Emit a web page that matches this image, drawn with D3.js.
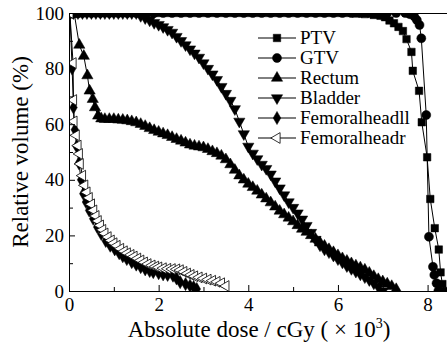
<!DOCTYPE html>
<html>
<head>
<meta charset="utf-8">
<script src="https://cdn.jsdelivr.net/npm/d3@7"></script>
<style>
  body { margin: 0; background: #fff; }
  svg { display: block; }
</style>
</head>
<body>
<div id="chart"></div>
<script>
// tick values
const doseTicks = [0, 2, 4, 6, 8];
const doseMinor = [1, 3, 5, 7];
const volTicks = [0, 20, 40, 60, 80, 100];
const volMinor = [10, 30, 50, 70, 90];

const seriesNames = ["PTV", "GTV", "Rectum", "Bladder", "Femoralheadll", "Femoralheadr"];

// [dose (x10^3 cGy), relative volume %]
const ptvData = [[0,100],[0.2,100],[0.4,100],[0.6,100],[0.8,100],[1.0,100],[1.2,100],[1.4,100],[1.6,100],[1.8,100],
  [2.0,100],[2.2,100],[2.4,100],[2.6,100],[2.8,100],[3.0,100],[3.2,100],[3.4,100],[3.6,100],[3.8,100],
  [4.0,100],[4.2,100],[4.4,100],[4.6,100],[4.8,100],[5.0,100],[5.2,100],[5.4,100],[5.6,100],[5.8,100],
  [6.0,100],[6.2,100],[6.4,99.8],[6.6,99.6],[6.8,99.3],[6.95,99],[7.05,98.5],[7.15,97.3],[7.25,96.3],
  [7.35,95],[7.45,93.5],[7.53,90.6],[7.64,86],[7.67,79.2],[7.81,72],[7.87,60.7],[7.99,48.1],[8.06,33.1],
  [8.16,22.6],[8.25,14.9],[8.29,6.7],[8.33,2.5],[8.38,0]];

const gtvData = [[0.1,100],[0.3,100],[0.5,100],[0.7,100],[0.9,100],[1.1,100],[1.3,100],[1.5,100],[1.7,100],[1.9,100],
  [2.1,100],[2.3,100],[2.5,100],[2.7,100],[2.9,100],[3.1,100],[3.3,100],[3.5,100],[3.7,100],[3.9,100],
  [4.1,100],[4.3,100],[4.5,100],[4.7,100],[4.9,100],[5.1,100],[5.3,100],[5.5,100],[5.7,100],[5.9,100],
  [6.1,100],[6.3,100],[6.5,100],[6.7,100],[6.9,100],[7.1,100],[7.3,100],[7.5,100],[7.6,99.6],[7.7,98.8],
  [7.76,97.5],[7.82,95.7],[7.86,90.9],[7.97,63.3],[8.03,19.5],[8.12,8.7],[8.15,5.8],[8.2,2.8],[8.24,0]];

const rectumData = [[0,100],[0.12,99.5],[0.23,88.5],[0.33,84.5],[0.41,77.5],[0.46,72],[0.53,69],[0.58,66],[0.65,63],
  [0.72,62],[0.8,61.8],[0.9,61.8],[1.0,61.8],[1.1,61.6],[1.2,61.5],[1.3,61.3],[1.4,61],[1.5,60.6],[1.6,60],
  [1.7,59.3],[1.8,58.5],[1.9,57.8],[2.0,57.2],[2.1,56.6],[2.2,56],[2.3,55.3],[2.4,54.6],[2.5,54],[2.6,53.3],
  [2.7,52.6],[2.8,52.2],[2.9,51.9],[3.0,51.6],[3.1,51],[3.2,50.2],[3.3,49.5],[3.4,48.6],[3.5,47.3],[3.6,45.5],
  [3.7,43.5],[3.8,41.5],[3.9,40],[4.0,38.5],[4.1,37.3],[4.2,36],[4.3,34.6],[4.4,33.2],[4.5,31.8],[4.6,30.3],
  [4.7,28.8],[4.8,27.5],[4.9,26.3],[5.0,25],[5.1,23.6],[5.2,22.3],[5.3,21.2],[5.4,20],[5.5,18.7],[5.6,17.4],
  [5.7,16.2],[5.8,15],[5.9,13.9],[6.0,12.8],[6.1,11.7],[6.2,10.8],[6.3,9.9],[6.4,9.1],[6.5,8.4],[6.6,7.6],
  [6.7,6.5],[6.8,5.3],[6.9,4.2],[7.0,3.4],[7.1,2.6],[7.2,1.7],[7.3,0.6]];

const bladderData = [[0,100],[0.1,100],[0.2,100],[0.3,100],[0.4,100],[0.5,100],[0.6,100],[0.7,100],[0.8,100],
  [0.9,100],[1.0,100],[1.1,100],[1.2,100],[1.3,100],[1.4,100],[1.5,100],[1.6,99],[1.7,98.2],[1.8,97.4],
  [1.9,96.5],[2.0,95.8],[2.1,95],[2.2,94],[2.3,93],[2.4,91.5],[2.5,90],[2.6,88.5],[2.7,87],[2.8,85.5],
  [2.9,84],[3.0,82],[3.1,80],[3.2,78],[3.3,76],[3.4,73.5],[3.5,71],[3.6,68.5],[3.7,65.5],[3.8,61],
  [3.9,56.5],[4.0,52],[4.1,49.5],[4.2,47.5],[4.3,45.5],[4.4,44],[4.5,42],[4.6,39.5],[4.7,37],[4.8,34.5],
  [4.9,32],[5.0,30],[5.1,28],[5.2,25.8],[5.3,23.5],[5.4,21],[5.5,18.5],[5.6,16.5],[5.7,15],[5.8,14],
  [5.9,12.8],[6.0,11.5],[6.1,10.3],[6.2,9],[6.3,8],[6.4,7],[6.5,6],[6.6,5],[6.7,4],[6.8,2.8],[6.9,1.5],[7.0,0]];

const femLData = [[0,100],[0.02,100],[0.07,80],[0.1,66],[0.13,58],[0.17,52],[0.22,46],[0.27,40],[0.32,35],
  [0.38,32],[0.45,29],[0.54,26],[0.63,23],[0.72,20.5],[0.82,18],[0.92,16.3],[1.02,15],[1.12,13.6],[1.2,12.5],
  [1.29,11.5],[1.4,10.4],[1.5,9.5],[1.6,8.6],[1.7,7.8],[1.8,7.2],[1.88,6.8],[2.0,6.4],[2.1,6],[2.2,5.8],
  [2.32,5.5],[2.4,4.5],[2.48,3.2],[2.6,2.5],[2.7,1.9],[2.78,1.4],[2.85,0.7]];

const femRData = [[0,100],[0.02,100],[0.09,82],[0.1,68.7],[0.11,61],[0.16,56],[0.2,52.3],[0.23,49.3],[0.25,45.7],
  [0.3,41.5],[0.35,38],[0.4,35.5],[0.45,33.5],[0.5,31.2],[0.55,29],[0.6,27],[0.65,25.2],[0.7,23.6],[0.75,22],
  [0.8,20.7],[0.87,19.4],[0.94,18.2],[1.0,17.2],[1.07,16.3],[1.15,15.2],[1.23,14.3],[1.3,13.6],[1.38,13],
  [1.45,12.4],[1.53,11.7],[1.6,11],[1.68,10.3],[1.76,9.7],[1.85,9.2],[1.93,8.8],[2.0,8.5],[2.1,8.2],[2.2,8],
  [2.3,7.9],[2.4,7.8],[2.48,7.5],[2.56,6.9],[2.64,6.3],[2.72,5.8],[2.8,5.3],[2.9,4.9],[3.0,4.5],[3.1,4.1],
  [3.2,3.7],[3.3,3.3],[3.4,2.8],[3.5,1.8]];

const allData = [ptvData, gtvData, rectumData, bladderData, femLData, femRData];

// marker styles per series
const markers = [
  { type: d3.symbolSquare, size: 56, rot: 0, fill: "#000" },
  { type: d3.symbolCircle, size: 64, rot: 0, fill: "#000" },
  { type: d3.symbolTriangle, size: 55, rot: 0, fill: "#000" },
  { type: d3.symbolTriangle, size: 55, rot: 180, fill: "#000" },
  { type: d3.symbolDiamond, size: 50, rot: 0, fill: "#000" },
  { type: d3.symbolTriangle, size: 50, rot: -90, fill: "#fff" }
];

const serif = "'Liberation Serif', 'Times New Roman', serif";
const width = 447, height = 346;

const svg = d3.select("#chart").append("svg")
  .attr("width", width)
  .attr("height", height)
  .style("font-family", serif);

const x = d3.scaleLinear().domain([0, 8.5]).range([69, 450]);
const y = d3.scaleLinear().domain([0, 100]).range([291, 13]);

svg.append("clipPath").attr("id", "plotclip")
  .append("rect")
  .attr("x", x(0) + 0.5).attr("y", y(100) + 0.5)
  .attr("width", x(8.5) - x(0)).attr("height", y(0) - y(100));

const plot = svg.append("g").attr("clip-path", "url(#plotclip)");

const line = d3.line().x(d => x(d[0])).y(d => y(d[1]));

allData.forEach((data, i) => {
  const m = markers[i];
  const sym = d3.symbol().type(m.type).size(m.size);
  const g = plot.append("g");
  g.append("path")
    .datum(data)
    .attr("d", line)
    .attr("fill", "none")
    .attr("stroke", "#000")
    .attr("stroke-width", 1);
  g.selectAll("path.pt")
    .data(data)
    .enter()
    .append("path")
    .attr("class", "pt")
    .attr("d", sym)
    .attr("transform", d => "translate(" + x(d[0]) + "," + y(d[1]) + ") rotate(" + m.rot + ")")
    .attr("fill", m.fill)
    .attr("stroke", "#000")
    .attr("stroke-width", m.fill === "#fff" ? 0.8 : 0.5);
});

// top frame
svg.append("line")
  .attr("x1", x(0)).attr("x2", width)
  .attr("y1", y(100) + 0.5).attr("y2", y(100) + 0.5)
  .attr("stroke", "#000");

// y axis
svg.append("g")
  .attr("transform", "translate(" + x(0) + ",0)")
  .call(d3.axisLeft(y).tickValues(volTicks).tickSize(-6).tickSizeOuter(0).tickPadding(5))
  .call(g => g.selectAll("text").style("font-family", serif).style("font-size", "19px"));
svg.append("g")
  .attr("transform", "translate(" + x(0) + ",0)")
  .call(d3.axisLeft(y).tickValues(volMinor).tickSize(-4).tickSizeOuter(0).tickFormat(""))
  .call(g => g.select(".domain").remove());

// x axis
svg.append("g")
  .attr("transform", "translate(0," + y(0) + ")")
  .call(d3.axisBottom(x).tickValues(doseTicks).tickSize(-6).tickSizeOuter(0).tickPadding(7))
  .call(g => g.selectAll("text").style("font-family", serif).style("font-size", "19px"));
svg.append("g")
  .attr("transform", "translate(0," + y(0) + ")")
  .call(d3.axisBottom(x).tickValues(doseMinor).tickSize(-4).tickSizeOuter(0).tickFormat(""))
  .call(g => g.select(".domain").remove());

// axis titles
const xt = svg.append("text")
  .attr("x", 259).attr("y", 337)
  .attr("text-anchor", "middle")
  .style("font-family", serif)
  .style("font-size", "23px")
  .text("Absolute dose / cGy ( \u00d7 10");
xt.append("tspan").attr("dy", -9).style("font-size", "14px").text("3");
xt.append("tspan").attr("dy", 9).text(")");

svg.append("text")
  .attr("transform", "translate(28,152) rotate(-90)")
  .attr("text-anchor", "middle")
  .style("font-family", serif)
  .style("font-size", "23px")
  .text("Relative volume (%)");

// legend
const legend = svg.append("g");
seriesNames.forEach((name, i) => {
  const ly = 38 + i * 20;
  const m = markers[i];
  legend.append("line")
    .attr("x1", 258).attr("x2", 296)
    .attr("y1", ly).attr("y2", ly)
    .attr("stroke", "#000");
  legend.append("path")
    .attr("d", d3.symbol().type(m.type).size(m.size)())
    .attr("transform", "translate(277," + ly + ") rotate(" + m.rot + ")")
    .attr("fill", m.fill)
    .attr("stroke", "#000")
    .attr("stroke-width", m.fill === "#fff" ? 0.8 : 0.5);
  legend.append("text")
    .attr("x", 300).attr("y", ly + 6)
    .style("font-family", serif)
    .style("font-size", "19px")
    .text(name);
});
</script>
</body>
</html>
